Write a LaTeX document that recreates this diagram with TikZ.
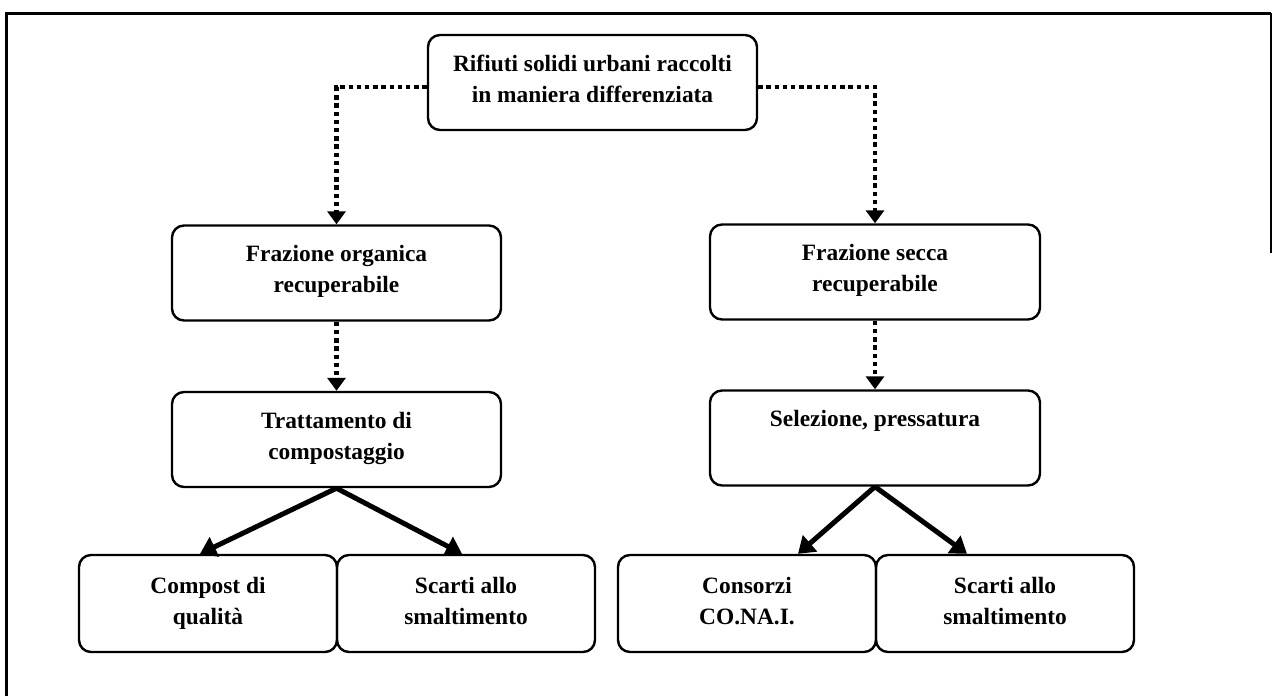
\documentclass[tikz,border=0pt]{standalone}
\usepackage{fontspec}
\setmainfont{Liberation Serif}
\usetikzlibrary{arrows.meta}
\begin{document}
\begin{tikzpicture}[x=0.5pt,y=-0.5pt,
  box/.style={draw, line width=1.2pt, rounded corners=6pt, minimum width=#1, inner sep=0pt},
  box/.default=164.5pt,
  upbox/.style={box=#1, minimum height=47.5pt},
  lowbox/.style={box=#1, minimum height=48.5pt},
  txt/.style={font=\fontsize{11.7}{15.5}\selectfont\bfseries, align=center, inner sep=0pt, anchor=north},
  dotarr/.style={line width=2.3pt, dash pattern=on 2.2pt off 1.9pt, -{Triangle[width=9pt,length=6.5pt]}},
  solarr/.style={line width=2.5pt, -{Triangle[width=10.5pt,length=8pt]}},
  frame/.style={line width=1.5pt}
]
\useasboundingbox (0,0) rectangle (1273,696);
% frame
\coordinate (fa) at (6,696);
\coordinate (fb) at (6,13);
\coordinate (fc) at (1271,13);
\coordinate (fd) at (1271,253);
\draw[frame] (fa) -- (fb) -- (fc);
\draw[line width=0.8pt] (fc) -- (fd);

% boxes
\node[upbox=164.5pt] (top) at (592.5,82.5) {};
\node[upbox=164.5pt] (org) at (336.5,273) {};
\node[upbox=165pt] (sec) at (875,272) {};
\node[upbox=164.5pt] (trat) at (336.5,439.5) {};
\node[upbox=165pt] (sel) at (875,438) {};
\node[lowbox=129pt] (comp) at (208,603.5) {};
\node[lowbox=129pt] (scl) at (466,603.5) {};
\node[lowbox=129pt] (cons) at (747,603.5) {};
\node[lowbox=129pt] (scr) at (1005,603.5) {};

% texts
\node[txt] (topt) at ([yshift=-10.25pt]top.north) {Rifiuti solidi urbani raccolti\\in maniera differenziata};
\node[txt] (orgt) at ([yshift=-10.5pt]org.north) {Frazione organica\\recuperabile};
\node[txt] (sect) at ([yshift=-10.5pt]sec.north) {Frazione secca\\recuperabile};
\node[txt] (tratt) at ([yshift=-10.5pt]trat.north) {Trattamento di\\compostaggio};
\node[txt] (selt) at ([yshift=-10.5pt]sel.north) {Selezione, pressatura};
\node[txt] (compt) at ([yshift=-11.5pt]comp.north) {Compost di\\qualità};
\node[txt] (sclt) at ([yshift=-11.5pt]scl.north) {Scarti allo\\smaltimento};
\node[txt] (const) at ([yshift=-11.5pt]cons.north) {Consorzi\\CO.NA.I.};
\node[txt] (scrt) at ([yshift=-11.5pt]scr.north) {Scarti allo\\smaltimento};

% dotted connectors
\coordinate (tl) at (336.5,87);
\coordinate (tr) at (875,87);
\draw[dotarr] (top.west |- tl) -- (tl) -- (org.north);
\draw[dotarr] (top.east |- tr) -- (tr) -- (sec.north);
\draw[dotarr] (org.south) -- (trat.north);
\draw[dotarr] (sec.south) -- (sel.north);

% solid connectors
\draw[solarr] (trat.south) -- ([xshift=-4pt]comp.north);
\draw[solarr] (trat.south) -- ([xshift=-2pt]scl.north);
\draw[solarr] (sel.south) -- ([xshift=25.5pt]cons.north);
\draw[solarr] (sel.south) -- ([xshift=-19pt]scr.north);
\end{tikzpicture}
\end{document}
